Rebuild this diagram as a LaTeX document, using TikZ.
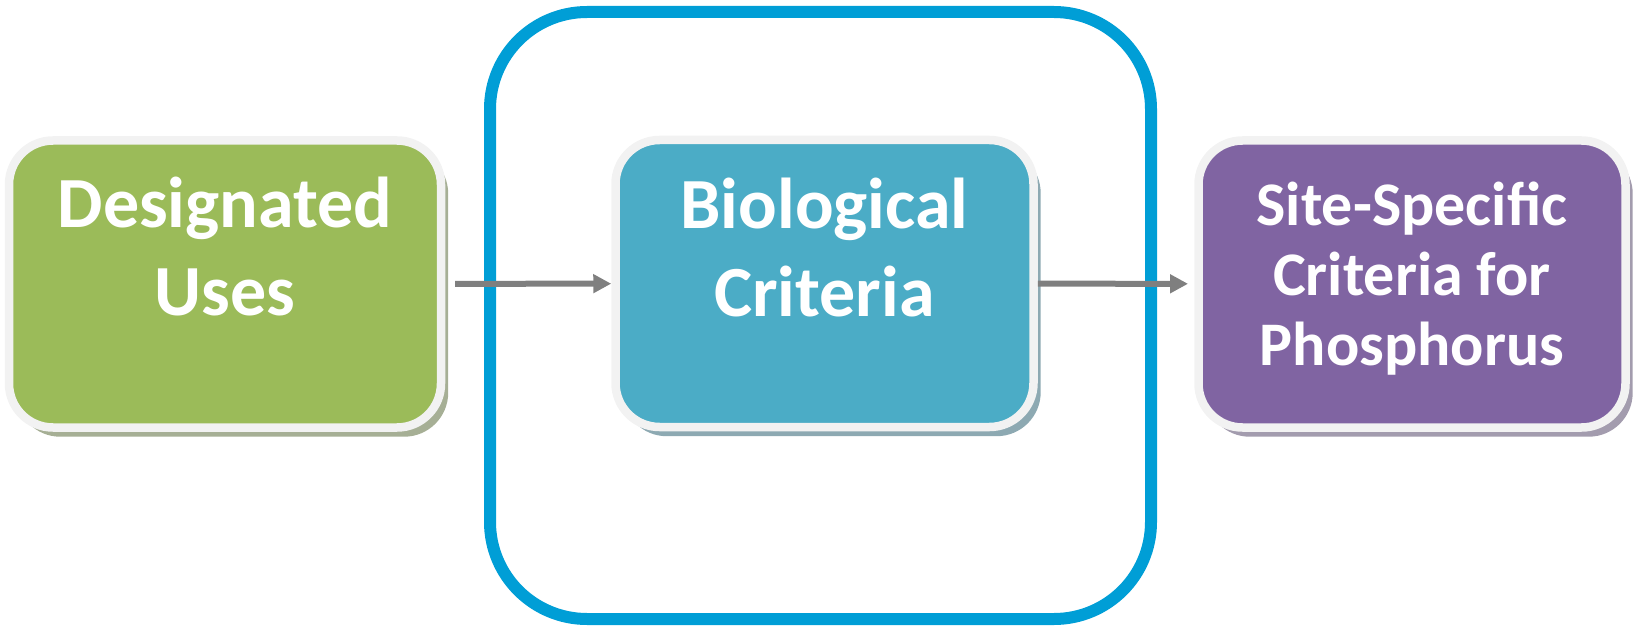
\documentclass[tikz,border=0pt]{standalone}
\usepackage{fontspec}
\setmainfont{Carlito}
\usepackage{xcolor}
\usepackage{tikz}
\usetikzlibrary{positioning,arrows.meta,shadows}

\definecolor{usesgreen}{HTML}{9BBB59}
\definecolor{usesshade}{HTML}{A6AF95}
\definecolor{biocyan}{HTML}{4BACC6}
\definecolor{bioshade}{HTML}{8DA9B2}
\definecolor{sitepurple}{HTML}{8064A2}
\definecolor{siteshade}{HTML}{A39CAE}
\definecolor{frameblue}{HTML}{009ED6}
\definecolor{rimgray}{HTML}{F2F2F2}
\definecolor{flowgray}{HTML}{7F7F7F}

\begin{document}
\begin{tikzpicture}[x=0.5pt, y=-0.5pt,
    stage/.style={draw=rimgray, line width=4.25pt, rounded corners=22pt,
        minimum height=143.5pt, inner sep=0pt},
    shade/.style={drop shadow={shadow xshift=3.6pt, shadow yshift=-4.6pt, fill=#1, opacity=1}},
    stagetext/.style={text=white, align=center, inner sep=0pt,
        font=\bfseries\fontsize{36pt}{44pt}\selectfont},
    flow/.style={draw=flowgray, line width=3pt, -{Triangle[length=9pt,width=9pt]}}]
    \useasboundingbox (0,0) rectangle (1634,626);
    % outline round the middle stage
    \node[draw=frameblue, line width=6pt, rounded corners=48.5pt,
        minimum width=330.5pt, minimum height=303.5pt] (frame) at (820.5,315.5) {};
    % the three stages
    \node[stage, fill=usesgreen, shade=usesshade, minimum width=216pt] (uses) at (225,284) {};
    \node[stage, fill=biocyan, shade=bioshade, minimum width=209pt] (bio) at (824.5,283.5) {};
    \node[stage, fill=sitepurple, shade=siteshade, minimum width=213.5pt] (site) at (1412,284) {};
    \node[stagetext, below=20pt of uses.north] (uses-text) {Designated\\Uses};
    \node[stagetext, below=21pt of bio.north] (bio-text) {Biological\\Criteria};
    \node[stagetext, font=\bfseries\fontsize{31pt}{35pt}\selectfont,
        below=22.5pt of site.north] (site-text) {Site-Specific\\Criteria for\\Phosphorus};
    % flow between stages
    \draw[flow, shorten <=4.9pt] (uses) -- (bio);
    \draw[flow, shorten >=3.1pt] (bio) -- (site);
\end{tikzpicture}
\end{document}
